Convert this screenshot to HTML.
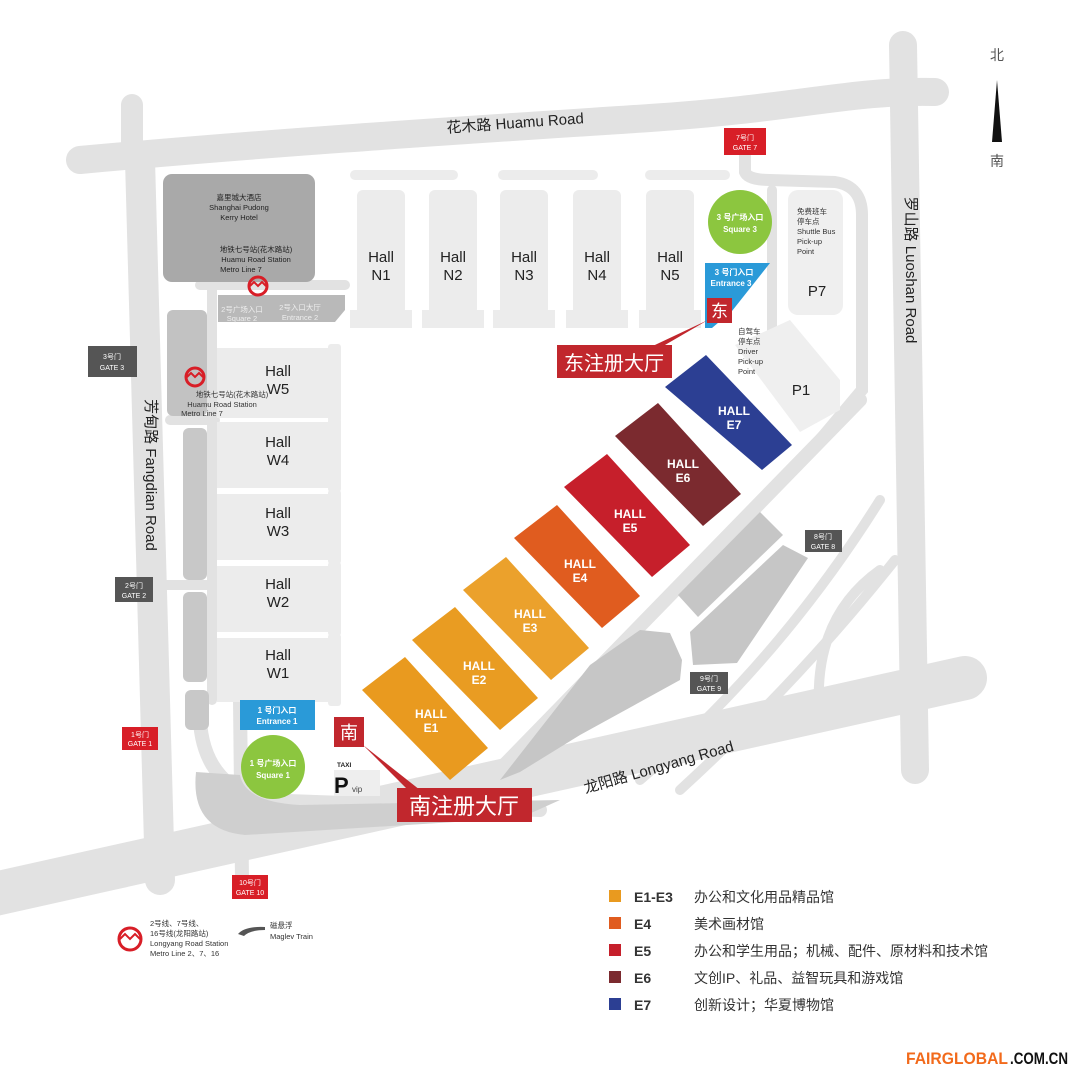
<!DOCTYPE html>
<html><head><meta charset="utf-8"><style>
html,body{margin:0;padding:0;background:#fff}
svg{display:block}
text{font-family:"Liberation Sans","Noto Sans CJK SC",sans-serif}
</style></head><body>
<svg width="1080" height="1080" viewBox="0 0 1080 1080" xmlns="http://www.w3.org/2000/svg">
<rect width="1080" height="1080" fill="#fff"/>
<g fill="none" stroke="#e2e2e2" stroke-linecap="round">
  <path d="M80 160 C300 140 500 128 650 118 S850 90 935 92" stroke-width="28"/>
  <path d="M132 105 L132 160" stroke-width="22"/>
  <path d="M140 160 L160 880" stroke-width="30"/>
  <path d="M903 45 L915 770" stroke-width="28"/>
  <path d="M-10 895 L965 678" stroke-width="44"/>
  <path d="M212 290 L212 700" stroke-width="10"/>
  <path d="M240 700 L242 880" stroke-width="14"/>
  <path d="M200 285 L345 285" stroke-width="10"/>
  <path d="M170 420 L215 420 M165 585 L215 585" stroke-width="10"/>
  <path d="M480 790 L860 400" stroke-width="14"/>
  <path d="M745 150 L745 172 Q748 180 770 180 L835 182 Q862 186 862 215 L862 390 L820 440" stroke-width="12"/>
  <path d="M772 190 L772 330 Q775 345 800 360" stroke-width="10"/>
  <path d="M200 700 Q195 780 260 800 L540 810" stroke-width="14"/>
  <path d="M640 780 Q780 660 880 500" stroke-width="10"/>
  <path d="M680 790 Q800 680 895 560" stroke-width="10"/>
  <path d="M820 720 Q810 620 880 570" stroke-width="10"/>
</g>
<g fill="#c6c6c6">
  <path d="M196 772 Q190 830 245 835 L520 818 L560 800 L300 805 Q245 802 240 775 Z" fill="#cfcfcf"/>
  <path d="M500 780 L590 665 L640 630 L670 633 L682 660 L680 680 L580 735 L520 772 Z"/>
  <path d="M678 595 L760 512 L783 535 L698 617 Z"/>
  <path d="M690 632 L783 545 L808 558 L737 663 L693 665 Z"/>
  <rect x="163" y="174" width="152" height="108" rx="9" fill="#a9a9a9"/>
  <path d="M218 295 L345 295 L345 310 L335 322 L218 322 Z" fill="#b9b9b9"/>
  <rect x="167" y="310" width="40" height="106" rx="6" fill="#c2c2c2"/>
  <rect x="183" y="428" width="24" height="152" rx="6" fill="#c8c8c8"/>
  <rect x="183" y="592" width="24" height="90" rx="6" fill="#c8c8c8"/>
  <rect x="185" y="690" width="24" height="40" rx="6" fill="#c8c8c8"/>
</g>
<g fill="#ececec">
  <rect x="350" y="170" width="108" height="10" rx="5"/>
  <rect x="498" y="170" width="100" height="10" rx="5"/>
  <rect x="645" y="170" width="85" height="10" rx="5"/>
  <rect x="357" y="190" width="48" height="125" rx="6"/><rect x="350" y="310" width="62" height="18"/>
  <rect x="429" y="190" width="48" height="125" rx="6"/><rect x="422" y="310" width="62" height="18"/>
  <rect x="500" y="190" width="48" height="125" rx="6"/><rect x="493" y="310" width="62" height="18"/>
  <rect x="573" y="190" width="48" height="125" rx="6"/><rect x="566" y="310" width="62" height="18"/>
  <rect x="646" y="190" width="48" height="125" rx="6"/><rect x="639" y="310" width="62" height="18"/>
  <rect x="217" y="348" width="115" height="70"/><rect x="328" y="344" width="13" height="78" rx="3"/>
  <rect x="217" y="422" width="115" height="66"/><rect x="328" y="418" width="13" height="74" rx="3"/>
  <rect x="217" y="494" width="115" height="66"/><rect x="328" y="490" width="13" height="74" rx="3"/>
  <rect x="217" y="566" width="115" height="66"/><rect x="328" y="562" width="13" height="74" rx="3"/>
  <rect x="217" y="638" width="115" height="64"/><rect x="328" y="634" width="13" height="72" rx="3"/>
  <rect x="788" y="190" width="55" height="125" rx="10" fill="#efefef"/>
  <path d="M735 345 L790 320 L840 380 L840 410 L800 432 Z" fill="#efefef"/>
</g>
<g>
  <path d="M362 690 L405 657 L488 748 L450 780 Z" fill="#e99a1f"/>
  <path d="M412 640 L455 607 L538 698 L500 730 Z" fill="#e99c22"/>
  <path d="M463 590 L506 557 L589 648 L551 680 Z" fill="#eba12c"/>
  <path d="M514 538 L557 505 L640 596 L602 628 Z" fill="#e05c1f"/>
  <path d="M564 487 L607 454 L690 545 L652 577 Z" fill="#c61f2b"/>
  <path d="M615 436 L658 403 L741 494 L703 526 Z" fill="#7b2a2f"/>
  <path d="M665 387 L706 355 L792 445 L762 470 Z" fill="#2c3f93"/>
</g>
<g fill="#fff" font-weight="bold" font-size="12" text-anchor="middle">
  <text x="431" y="718">HALL</text><text x="431" y="732">E1</text>
  <text x="479" y="670">HALL</text><text x="479" y="684">E2</text>
  <text x="530" y="618">HALL</text><text x="530" y="632">E3</text>
  <text x="580" y="568">HALL</text><text x="580" y="582">E4</text>
  <text x="630" y="518">HALL</text><text x="630" y="532">E5</text>
  <text x="683" y="468">HALL</text><text x="683" y="482">E6</text>
  <text x="734" y="415">HALL</text><text x="734" y="429">E7</text>
</g>
<g fill="#222" font-size="15" text-anchor="middle">
  <text x="381" y="262">Hall</text><text x="381" y="280">N1</text>
  <text x="453" y="262">Hall</text><text x="453" y="280">N2</text>
  <text x="524" y="262">Hall</text><text x="524" y="280">N3</text>
  <text x="597" y="262">Hall</text><text x="597" y="280">N4</text>
  <text x="670" y="262">Hall</text><text x="670" y="280">N5</text>
  <text x="278" y="376">Hall</text><text x="278" y="394">W5</text>
  <text x="278" y="447">Hall</text><text x="278" y="465">W4</text>
  <text x="278" y="518">Hall</text><text x="278" y="536">W3</text>
  <text x="278" y="589">Hall</text><text x="278" y="607">W2</text>
  <text x="278" y="660">Hall</text><text x="278" y="678">W1</text>
  <text x="817" y="296">P7</text><text x="801" y="395">P1</text>
</g>
<g fill="#222" font-size="15">
  <text x="515" y="128" text-anchor="middle" transform="rotate(-4 515 122)">花木路 Huamu Road</text>
  <text x="0" y="0" text-anchor="middle" transform="translate(146 475) rotate(90)">芳甸路 Fangdian Road</text>
  <text x="0" y="0" text-anchor="middle" transform="translate(906 270) rotate(90)">罗山路 Luoshan Road</text>
  <text x="0" y="0" text-anchor="middle" transform="translate(660 772) rotate(-16)">龙阳路 Longyang Road</text>
</g>
<g fill="#333" font-size="7.5" text-anchor="middle">
  <text x="239" y="200" fill="#222">嘉里城大酒店</text><text x="239" y="210" fill="#222">Shanghai Pudong</text><text x="239" y="220" fill="#222">Kerry Hotel</text>
  <text x="256" y="252" fill="#222">地铁七号站(花木路站)</text><text x="256" y="262" fill="#222">Huamu Road Station</text><text x="241" y="272" fill="#222">Metro Line 7</text>
  <text x="242" y="312" fill="#eee">2号广场入口</text><text x="242" y="321" fill="#eee">Square 2</text>
  <text x="300" y="310" fill="#eee">2号入口大厅</text><text x="300" y="320" fill="#eee">Entrance 2</text>
  <text x="232" y="397">地铁七号站(花木路站)</text><text x="222" y="407">Huamu Road Station</text><text x="202" y="416">Metro Line 7</text>
  <text x="797" y="214" text-anchor="start">免费班车</text><text x="797" y="224" text-anchor="start">停车点</text><text x="797" y="234" text-anchor="start">Shuttle Bus</text><text x="797" y="244" text-anchor="start">Pick-up</text><text x="797" y="254" text-anchor="start">Point</text>
  <text x="738" y="334" text-anchor="start">自驾车</text><text x="738" y="344" text-anchor="start">停车点</text><text x="738" y="354" text-anchor="start">Driver</text><text x="738" y="364" text-anchor="start">Pick-up</text><text x="738" y="374" text-anchor="start">Point</text>
  <text x="150" y="926" text-anchor="start">2号线、7号线、</text><text x="150" y="936" text-anchor="start">16号线(龙阳路站)</text><text x="150" y="946" text-anchor="start">Longyang Road Station</text><text x="150" y="956" text-anchor="start">Metro Line 2、7、16</text>
  <text x="270" y="928" text-anchor="start">磁悬浮</text><text x="270" y="939" text-anchor="start">Maglev Train</text>
</g>
<path d="M238 934 Q245 926 265 927 L265 930 Q250 930 244 936 Z" fill="#555"/>
<circle cx="740" cy="222" r="32" fill="#8cc63f"/>
<circle cx="273" cy="767" r="32" fill="#8cc63f"/>
<path d="M705 263 L770 263 L732 311 L712 328 L705 328 Z" fill="#2a9ad8"/>
<rect x="240" y="700" width="75" height="30" fill="#2a9ad8"/>
<g fill="#fff" font-weight="bold" font-size="8" text-anchor="middle">
  <text x="740" y="220">3 号广场入口</text><text x="740" y="232">Square 3</text>
  <text x="734" y="275">3 号门入口</text><text x="731" y="286">Entrance 3</text>
  <text x="277" y="713">1 号门入口</text><text x="277" y="724">Entrance 1</text>
  <text x="273" y="766">1 号广场入口</text><text x="273" y="778">Square 1</text>
</g>
<path d="M708 320 L640 352 L646 356 Z" fill="#c1272d"/>
<rect x="707" y="298" width="25" height="25" fill="#c1272d"/>
<text x="719.5" y="317" font-size="17" fill="#fff" text-anchor="middle">东</text>
<rect x="557" y="345" width="115" height="33" fill="#c1272d"/>
<text x="614" y="370" font-size="20" fill="#fff" text-anchor="middle">东注册大厅</text>
<path d="M363 745 L420 790 L410 792 Z" fill="#c1272d"/>
<rect x="334" y="717" width="30" height="30" fill="#c1272d"/>
<text x="349" y="739" font-size="18" fill="#fff" text-anchor="middle">南</text>
<rect x="397" y="788" width="135" height="34" fill="#c1272d"/>
<text x="464" y="814" font-size="22" fill="#fff" text-anchor="middle">南注册大厅</text>
<rect x="334" y="770" width="46" height="26" fill="#eeeeee"/>
<text x="337" y="767" font-size="6.5" font-weight="bold" fill="#222">TAXI</text>
<text x="334" y="793" font-size="22" font-weight="bold" fill="#111">P</text>
<text x="352" y="792" font-size="8" fill="#444">vip</text>
<g font-size="7" text-anchor="middle" fill="#fff">
  <rect x="724" y="128" width="42" height="27" fill="#d81e27"/><text x="745" y="140">7号门</text><text x="745" y="150">GATE 7</text>
  <rect x="88" y="346" width="49" height="31" fill="#555"/><text x="112" y="359">3号门</text><text x="112" y="370">GATE 3</text>
  <rect x="115" y="577" width="38" height="25" fill="#555"/><text x="134" y="588">2号门</text><text x="134" y="598">GATE 2</text>
  <rect x="122" y="727" width="36" height="23" fill="#d81e27"/><text x="140" y="737">1号门</text><text x="140" y="746">GATE 1</text>
  <rect x="232" y="875" width="36" height="24" fill="#d81e27"/><text x="250" y="885">10号门</text><text x="250" y="895">GATE 10</text>
  <rect x="805" y="530" width="37" height="22" fill="#555"/><text x="823" y="539">8号门</text><text x="823" y="549">GATE 8</text>
  <rect x="690" y="672" width="38" height="22" fill="#555"/><text x="709" y="681">9号门</text><text x="709" y="691">GATE 9</text>
</g>
<g fill="none" stroke="#d81e27" stroke-width="3">
  <circle cx="258" cy="286" r="9"/><circle cx="195" cy="377" r="9"/><circle cx="130" cy="939" r="11"/>
</g>
<g fill="none" stroke="#d81e27" stroke-width="2">
  <path d="M250 286 l4 -4 l4 4 l4 -4 l4 4"/><path d="M187 377 l4 -4 l4 4 l4 -4 l4 4"/><path d="M120 939 l5 -5 l5 5 l5 -5 l5 5"/>
</g>
<text x="997" y="60" font-size="14" fill="#555" text-anchor="middle">北</text>
<path d="M997 80 L992 142 L1002 142 Z" fill="#111"/>
<text x="997" y="166" font-size="14" fill="#555" text-anchor="middle">南</text>
<rect x="609" y="890" width="12" height="12" fill="#e99a1f"/>
<rect x="609" y="917" width="12" height="12" fill="#e05c1f"/>
<rect x="609" y="944" width="12" height="12" fill="#c61f2b"/>
<rect x="609" y="971" width="12" height="12" fill="#7b2a2f"/>
<rect x="609" y="998" width="12" height="12" fill="#2c3f93"/>
<g font-size="14" fill="#333">
  <text x="634" y="902" font-weight="bold">E1-E3</text><text x="694" y="902">办公和文化用品精品馆</text>
  <text x="634" y="929" font-weight="bold">E4</text><text x="694" y="929">美术画材馆</text>
  <text x="634" y="956" font-weight="bold">E5</text><text x="694" y="956">办公和学生用品；机械、配件、原材料和技术馆</text>
  <text x="634" y="983" font-weight="bold">E6</text><text x="694" y="983">文创IP、礼品、益智玩具和游戏馆</text>
  <text x="634" y="1010" font-weight="bold">E7</text><text x="694" y="1010">创新设计；华夏博物馆</text>
</g>
<text x="906" y="1064" font-size="17" font-weight="bold" fill="#f26a1b" textLength="102" lengthAdjust="spacingAndGlyphs">FAIRGLOBAL</text>
<text x="1010" y="1064" font-size="17" font-weight="bold" fill="#111" textLength="58" lengthAdjust="spacingAndGlyphs">.COM.CN</text>
</svg>
</body></html>
